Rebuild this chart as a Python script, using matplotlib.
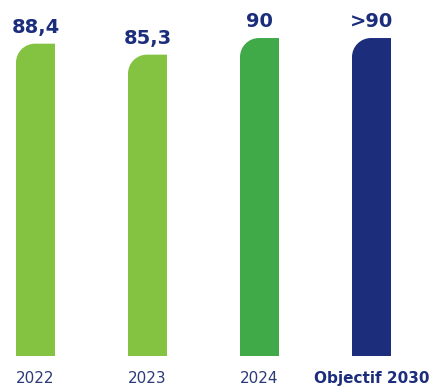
import matplotlib.pyplot as plt
from matplotlib.path import Path
from matplotlib.patches import PathPatch

categories = ['2022', '2023', '2024', 'Objectif 2030']
values = [88.4, 85.3, 90, 90]
value_labels = ['88,4', '85,3', '90', '>90']
colors = ['#84c341', '#84c341', '#3faa47', '#1b2d7b']
navy = '#1b2d7b'

W, H = 436, 387
fig = plt.figure(figsize=(W / 100, H / 100), dpi=100)
bottom_px = 31
ax = fig.add_axes([0, bottom_px / H, 1, 1 - bottom_px / H])

px_per_x = 112.0
px_per_y = 3.533
x0_px = 35.5
ax.set_xlim(-x0_px / px_per_x, (W - x0_px) / px_per_x)
ax.set_ylim(0, (H - bottom_px) / px_per_y)
ax.axis('off')

width = 39 / px_per_x
rx = 19 / px_per_x
ry = 19 / px_per_y
k = 0.5523

for i, (v, c) in enumerate(zip(values, colors)):
    l = i - width / 2
    r = i + width / 2
    verts = [(l, 0), (l, v - ry),
             (l, v - ry + k * ry), (l + rx - k * rx, v), (l + rx, v),
             (r, v), (r, 0), (l, 0)]
    codes = [Path.MOVETO, Path.LINETO,
             Path.CURVE4, Path.CURVE4, Path.CURVE4,
             Path.LINETO, Path.LINETO, Path.CLOSEPOLY]
    ax.add_patch(PathPatch(Path(verts, codes), facecolor=c, edgecolor='none'))
    ax.annotate(value_labels[i], (i, v), xytext=(0, 8), textcoords='offset points',
                ha='center', va='baseline', fontsize=14, fontweight='bold', color=navy)

for i, cat in enumerate(categories):
    bold = cat.startswith('Objectif')
    ax.annotate(cat, (i, 0), xytext=(0, -10.5), textcoords='offset points',
                ha='center', va='top', fontsize=11,
                fontweight='bold' if bold else 'normal', color=navy if bold else '#2b3a78')

fig.savefig('out.png', dpi=100)
